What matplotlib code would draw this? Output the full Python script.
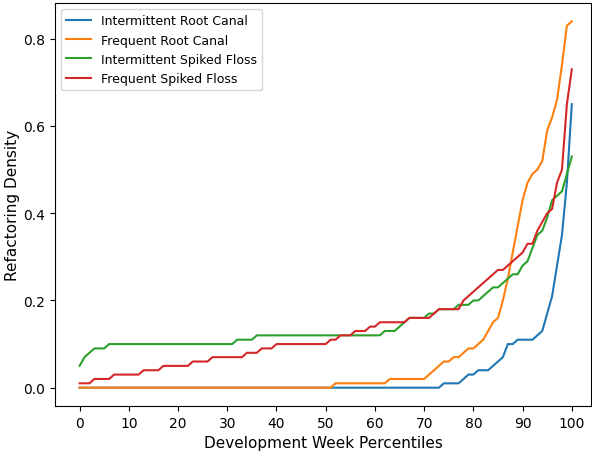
import matplotlib

matplotlib.use("Agg")
import matplotlib.pyplot as plt
import numpy as np

percentiles = np.arange(0, 101)

intermittent_root_canal = (
    [0.00] * 74
    + [0.01] * 4
    + [0.02, 0.03, 0.03, 0.04, 0.04, 0.04, 0.05, 0.06, 0.07, 0.10, 0.10]
    + [0.11] * 4
    + [0.12, 0.13, 0.17, 0.21, 0.28, 0.35, 0.47, 0.65]
)

frequent_root_canal = (
    [0.00] * 52
    + [0.01] * 11
    + [0.02] * 8
    + [0.03, 0.04, 0.05, 0.06, 0.06, 0.07, 0.07, 0.08, 0.09, 0.09,
       0.10, 0.11, 0.13, 0.15, 0.16, 0.20, 0.25, 0.31, 0.37, 0.43,
       0.47, 0.49, 0.50, 0.52, 0.59, 0.62, 0.66, 0.74, 0.83, 0.84]
)

intermittent_spiked_floss = (
    [0.05, 0.07, 0.08, 0.09, 0.09, 0.09]
    + [0.10] * 26
    + [0.11] * 4
    + [0.12] * 26
    + [0.13] * 3
    + [0.14, 0.15]
    + [0.16] * 4
    + [0.17] * 2
    + [0.18] * 4
    + [0.19] * 3
    + [0.20, 0.20, 0.21, 0.22, 0.23, 0.23, 0.24, 0.25, 0.26, 0.26,
       0.28, 0.29, 0.32, 0.35, 0.36, 0.39, 0.43, 0.44, 0.45, 0.49, 0.53]
)

frequent_spiked_floss = (
    [0.01] * 3
    + [0.02] * 4
    + [0.03] * 6
    + [0.04] * 4
    + [0.05] * 6
    + [0.06] * 4
    + [0.07] * 7
    + [0.08] * 3
    + [0.09] * 3
    + [0.10] * 11
    + [0.11] * 2
    + [0.12] * 3
    + [0.13] * 3
    + [0.14] * 2
    + [0.15] * 6
    + [0.16] * 5
    + [0.17]
    + [0.18] * 5
    + [0.20, 0.21, 0.22, 0.23, 0.24, 0.25, 0.26, 0.27, 0.27, 0.28,
       0.29, 0.30, 0.31, 0.33, 0.33, 0.36, 0.38, 0.40, 0.41, 0.47,
       0.50, 0.65, 0.73]
)

series = {
    "Intermittent Root Canal": intermittent_root_canal,
    "Frequent Root Canal": frequent_root_canal,
    "Intermittent Spiked Floss": intermittent_spiked_floss,
    "Frequent Spiked Floss": frequent_spiked_floss,
}

fig = plt.figure(figsize=(5.92, 4.52), dpi=100)
ax = fig.add_axes([55 / 592, 1 - 407 / 452, 536 / 592, 403 / 452])

for label, values in series.items():
    ax.plot(percentiles, values, label=label)

ax.set_xlim(-5, 103.9)
ax.set_xticks(range(0, 101, 10))
ax.set_xlabel("Development Week Percentiles", fontsize=11)
ax.set_ylabel("Refactoring Density", fontsize=11, labelpad=2)
ax.legend(loc="upper left", fontsize=9)

fig.savefig("out.png", dpi=100)
